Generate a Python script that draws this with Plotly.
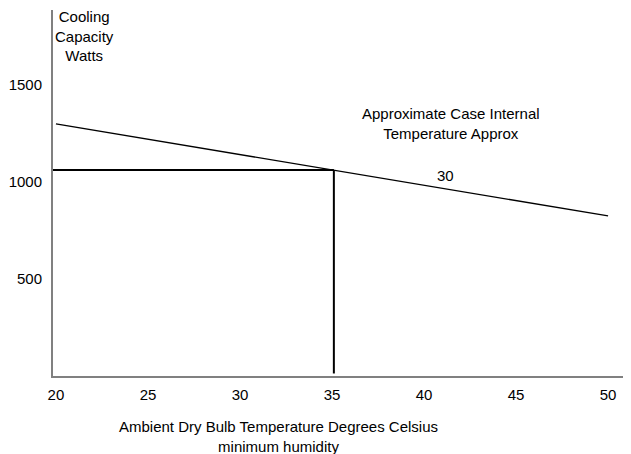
import plotly.graph_objects as go

# Data
capacity_temp = [20, 50]          # ambient temperature (deg C)
capacity_watts = [1300, 825]      # cooling capacity (W)

guide_h_temp = [19.84, 35.1]
guide_h_watts = [1062, 1062]
guide_v_temp = [35.1, 35.1]
guide_v_watts = [1062, 13]

x_ticks = [20, 25, 30, 35, 40, 45, 50]
y_ticks = [500, 1000, 1500]

FONT = "Arial, 'Liberation Sans', sans-serif"

fig = go.Figure()
fig.add_trace(go.Scatter(x=capacity_temp, y=capacity_watts, mode="lines",
                         line=dict(color="black", width=1.3), showlegend=False))
fig.add_trace(go.Scatter(x=guide_h_temp, y=guide_h_watts, mode="lines",
                         line=dict(color="black", width=2), showlegend=False))
fig.add_trace(go.Scatter(x=guide_v_temp, y=guide_v_watts, mode="lines",
                         line=dict(color="black", width=2), showlegend=False))

# page has an 8px body margin, so the figure is sized/offset to compensate
fig.update_layout(
    width=623, height=446,
    margin=dict(l=42, r=1, t=2, b=78),
    paper_bgcolor="white", plot_bgcolor="white",
    font=dict(family=FONT, size=15, color="black"),
    xaxis=dict(range=[19.84, 51.19], tickvals=x_ticks,
               ticktext=[str(v) for v in x_ticks],
               showgrid=False, zeroline=False,
               showline=True, linecolor="#808080", linewidth=2,
               ticks="", ticklabelstandoff=4),
    yaxis=dict(range=[0, 1887], tickvals=y_ticks,
               ticktext=[str(v) for v in y_ticks],
               showgrid=False, zeroline=False,
               showline=True, linecolor="#808080", linewidth=2,
               ticks="", ticklabelstandoff=6),
    annotations=[
        dict(text="Cooling<br>Capacity<br>Watts", xref="paper", yref="paper",
             x=0.055, y=0.928, showarrow=False, align="center",
             xanchor="center", yanchor="middle"),
        dict(text="Approximate Case Internal<br>Temperature Approx",
             xref="paper", yref="paper", x=0.690, y=0.689, showarrow=False,
             align="center", xanchor="center", yanchor="middle"),
        dict(text="30", xref="paper", yref="paper", x=(445 - 50) / 580,
             y=(376 - 176) / 366, showarrow=False,
             xanchor="center", yanchor="middle"),
        dict(text="Ambient Dry Bulb Temperature Degrees Celsius<br>minimum humidity",
             xref="paper", yref="paper", x=0.391, y=-0.164, showarrow=False,
             align="center", xanchor="center", yanchor="middle"),
    ],
)

fig.write_html("out.html")
